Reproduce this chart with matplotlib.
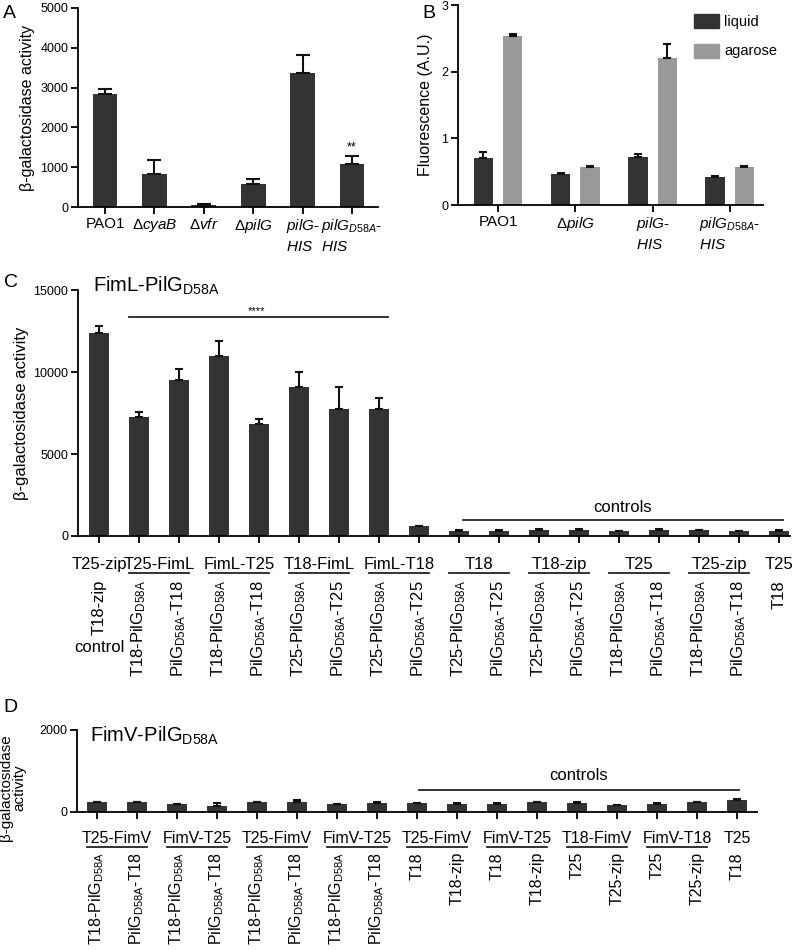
import matplotlib
matplotlib.use('Agg')
import matplotlib.pyplot as plt
import matplotlib.transforms as mtransforms
from matplotlib.patches import Patch

plt.rcParams['font.family'] = ['Liberation Sans', 'DejaVu Sans']
plt.rcParams['mathtext.fontset'] = 'custom'
plt.rcParams['mathtext.rm'] = 'Liberation Sans'
plt.rcParams['mathtext.it'] = 'Liberation Sans:italic'
plt.rcParams['mathtext.bf'] = 'Liberation Sans:bold'
plt.rcParams['mathtext.default'] = 'regular'

W, H = 800, 951
DARK = '#333333'
LIGHT = '#999999'
SUB = r'$_{D58A}$'

# ---- panel A data ----
a_labels = ['PAO1', r'$\Delta\mathit{cyaB}$', r'$\Delta\mathit{vfr}$', r'$\Delta\mathit{pilG}$',
            r'$\mathit{pilG}$-' + '\n' + r'$\mathit{HIS}$',
            r'$\mathit{pilG_{D58A}}$-' + '\n' + r'$\mathit{HIS}$']
a_values = [2840, 830, 50, 570, 3360, 1090]
a_err = [125, 360, 25, 130, 470, 185]

# ---- panel B data ----
b_labels = ['PAO1', r'$\Delta\mathit{pilG}$',
            r'$\mathit{pilG}$-' + '\n' + r'$\mathit{HIS}$',
            r'$\mathit{pilG_{D58A}}$-' + '\n' + r'$\mathit{HIS}$']
b_liquid = [0.71, 0.46, 0.72, 0.42]
b_liquid_err = [0.085, 0.02, 0.04, 0.01]
b_agarose = [2.53, 0.57, 2.21, 0.57]
b_agarose_err = [0.04, 0.01, 0.205, 0.01]

# ---- panel C data ----
c_values = [12350, 7280, 9520, 10950, 6800, 9080, 7730, 7750,
            600, 330, 320, 380, 370, 280, 370, 340, 290, 310]
c_err = [470, 310, 650, 950, 330, 890, 1380, 650,
         40, 30, 30, 40, 30, 30, 50, 40, 30, 40]
c_groups = ['T25-zip', 'T25-FimL', 'FimL-T25', 'T18-FimL', 'FimL-T18',
            'T18', 'T18-zip', 'T25', 'T25-zip', 'T25']
c_group_spans = [(0, 0), (1, 2), (3, 4), (5, 6), (7, 8),
                 (9, 10), (11, 12), (13, 14), (15, 16), (17, 17)]
c_rot = ['T18-zip',
         'T18-PilG' + SUB, 'PilG' + SUB + '-T18',
         'T18-PilG' + SUB, 'PilG' + SUB + '-T18',
         'T25-PilG' + SUB, 'PilG' + SUB + '-T25',
         'T25-PilG' + SUB, 'PilG' + SUB + '-T25',
         'T25-PilG' + SUB, 'PilG' + SUB + '-T25',
         'T25-PilG' + SUB, 'PilG' + SUB + '-T25',
         'T18-PilG' + SUB, 'PilG' + SUB + '-T18',
         'T18-PilG' + SUB, 'PilG' + SUB + '-T18',
         'T18']

# ---- panel D data ----
d_values = [240, 240, 195, 150, 240, 235, 195, 220,
            215, 200, 200, 240, 220, 165, 200, 240, 290]
d_err = [15, 15, 10, 60, 15, 60, 10, 15,
         15, 10, 10, 15, 15, 15, 10, 15, 30]
d_groups = ['T25-FimV', 'FimV-T25', 'T25-FimV', 'FimV-T25',
            'T25-FimV', 'FimV-T25', 'T18-FimV', 'FimV-T18', 'T25']
d_group_spans = [(0, 1), (2, 3), (4, 5), (6, 7), (8, 9),
                 (10, 11), (12, 13), (14, 15), (16, 16)]
d_rot = ['T18-PilG' + SUB, 'PilG' + SUB + '-T18',
         'T18-PilG' + SUB, 'PilG' + SUB + '-T18',
         'T18-PilG' + SUB, 'PilG' + SUB + '-T18',
         'T18-PilG' + SUB, 'PilG' + SUB + '-T18',
         'T18', 'T18-zip', 'T18', 'T18-zip',
         'T25', 'T25-zip', 'T25', 'T25-zip', 'T18']

fig = plt.figure(figsize=(W / 100, H / 100), dpi=100)


def fy(py):
    return 1 - py / H


def px_axes(left, top, right, bottom):
    return fig.add_axes([left / W, 1 - bottom / H, (right - left) / W, (bottom - top) / H])


def style(ax):
    for s in ['top', 'right']:
        ax.spines[s].set_visible(False)
    for s in ['left', 'bottom']:
        ax.spines[s].set_linewidth(1.3)
    ax.tick_params(direction='out', length=5, width=1.3, labelsize=9, pad=2)


def bars(ax, x, vals, errs, color, width, capsize):
    ax.bar(x, vals, width=width, color=color, linewidth=0)
    ax.errorbar(x, vals, yerr=[[0] * len(errs), errs], fmt='none', ecolor='#111111',
                elinewidth=1.5, capsize=capsize, capthick=1.5)


# ---------------- A ----------------
axA = px_axes(78, 8, 378, 207)
style(axA)
xa = list(range(len(a_values)))
bars(axA, xa, a_values, a_err, DARK, 0.5, 5)
axA.set_ylim(0, 5000)
axA.set_yticks([0, 1000, 2000, 3000, 4000, 5000])
axA.set_xlim(-0.55, 5.53)
axA.set_xticks(xa)
axA.set_xticklabels(a_labels, fontsize=11, multialignment='left', linespacing=1.45)
axA.set_ylabel('β-galactosidase activity', fontsize=11.5, labelpad=4)
axA.text(5, a_values[5] + a_err[5] + 60, '**', ha='center', va='bottom', fontsize=9)
fig.text(3 / W, fy(14), 'A', fontsize=14, va='center')

# ---------------- B ----------------
axB = px_axes(458, 5, 763, 205)
style(axB)
xb = list(range(len(b_liquid)))
bars(axB, [x - 0.19 for x in xb], b_liquid, b_liquid_err, DARK, 0.25, 3)
bars(axB, [x + 0.19 for x in xb], b_agarose, b_agarose_err, LIGHT, 0.25, 3)
axB.set_ylim(0, 3)
axB.set_yticks([0, 1, 2, 3])
axB.set_xlim(-0.52, 3.43)
axB.set_xticks(xb)
axB.set_xticklabels(b_labels, fontsize=11, multialignment='left', linespacing=1.45)
axB.set_ylabel('Fluorescence (A.U.)', fontsize=11.5, labelpad=6)
axB.legend(handles=[Patch(color=DARK, label='liquid'), Patch(color=LIGHT, label='agarose')],
           loc='upper left', bbox_to_anchor=(694 / W, fy(14)), bbox_transform=fig.transFigure,
           frameon=False, fontsize=10.5, handlelength=1.7, handleheight=1.1,
           labelspacing=1.0, handletextpad=0.35, borderpad=0, borderaxespad=0)
fig.text(422 / W, fy(14), 'B', fontsize=14, va='center')


def bottom_labels(ax, groups, spans, rots, y_group, y_line, y_rot, gsize, rsize):
    tr = mtransforms.blended_transform_factory(ax.transData, fig.transFigure)
    for name, (i, j) in zip(groups, spans):
        ax.text((i + j) / 2, fy(y_group), name, transform=tr, ha='center', va='baseline',
                fontsize=gsize, clip_on=False)
        if j > i:
            ax.plot([i - 0.25, j + 0.25], [fy(y_line)] * 2, transform=tr, color='#222222',
                    lw=1.3, clip_on=False)
    for i, lab in enumerate(rots):
        ax.text(i, fy(y_rot), lab, transform=tr, rotation=90, ha='center', va='top',
                fontsize=rsize, clip_on=False)
    return tr


# ---------------- C ----------------
axC = px_axes(78, 290, 790, 536)
style(axC)
xc = list(range(len(c_values)))
bars(axC, xc, c_values, c_err, DARK, 0.5, 3)
axC.set_ylim(0, 15000)
axC.set_yticks([0, 5000, 10000, 15000])
axC.set_xlim(-0.525, 17.275)
axC.set_xticks(xc)
axC.set_xticklabels([])
axC.set_ylabel('β-galactosidase activity', fontsize=12, labelpad=3)
trC = bottom_labels(axC, c_groups, c_group_spans, c_rot, 569, 573, 580, 12, 12)
axC.text(0, fy(647), 'control', transform=trC, ha='center', va='center', fontsize=12)
axC.plot([0.75, 7.22], [13360, 13360], color='#222222', lw=1.3, clip_on=False)
axC.text(3.95, 13420, '****', ha='center', va='bottom', fontsize=8)
axC.plot([9.1, 17.1], [980, 980], color='#222222', lw=1.3, clip_on=False)
axC.text(13.1, 1250, 'controls', ha='center', va='bottom', fontsize=12)
fig.text(93 / W, fy(286), 'FimL-PilG' + SUB, fontsize=14.5, va='center')
fig.text(4 / W, fy(283), 'C', fontsize=14, va='center')

# ---------------- D ----------------
axD = px_axes(77, 730, 757, 812)
style(axD)
xd = list(range(len(d_values)))
bars(axD, xd, d_values, d_err, DARK, 0.5, 3)
axD.set_ylim(0, 2000)
axD.set_yticks([0, 2000])
axD.set_xlim(-0.5, 16.5)
axD.set_xticks(xd)
axD.set_xticklabels([])
axD.set_ylabel('β-galactosidase\nactivity', fontsize=11, linespacing=0.9)
axD.yaxis.set_label_coords(-0.075, 0.3)
bottom_labels(axD, d_groups, d_group_spans, d_rot, 843, 847, 852, 11.5, 11.5)
axD.plot([8.05, 16.05], [540, 540], color='#222222', lw=1.3, clip_on=False)
axD.text(12.05, 700, 'controls', ha='center', va='bottom', fontsize=12)
fig.text(90 / W, fy(736), 'FimV-PilG' + SUB, fontsize=14.5, va='center')
fig.text(3 / W, fy(708), 'D', fontsize=14, va='center')

fig.savefig('out.png', dpi=100)
